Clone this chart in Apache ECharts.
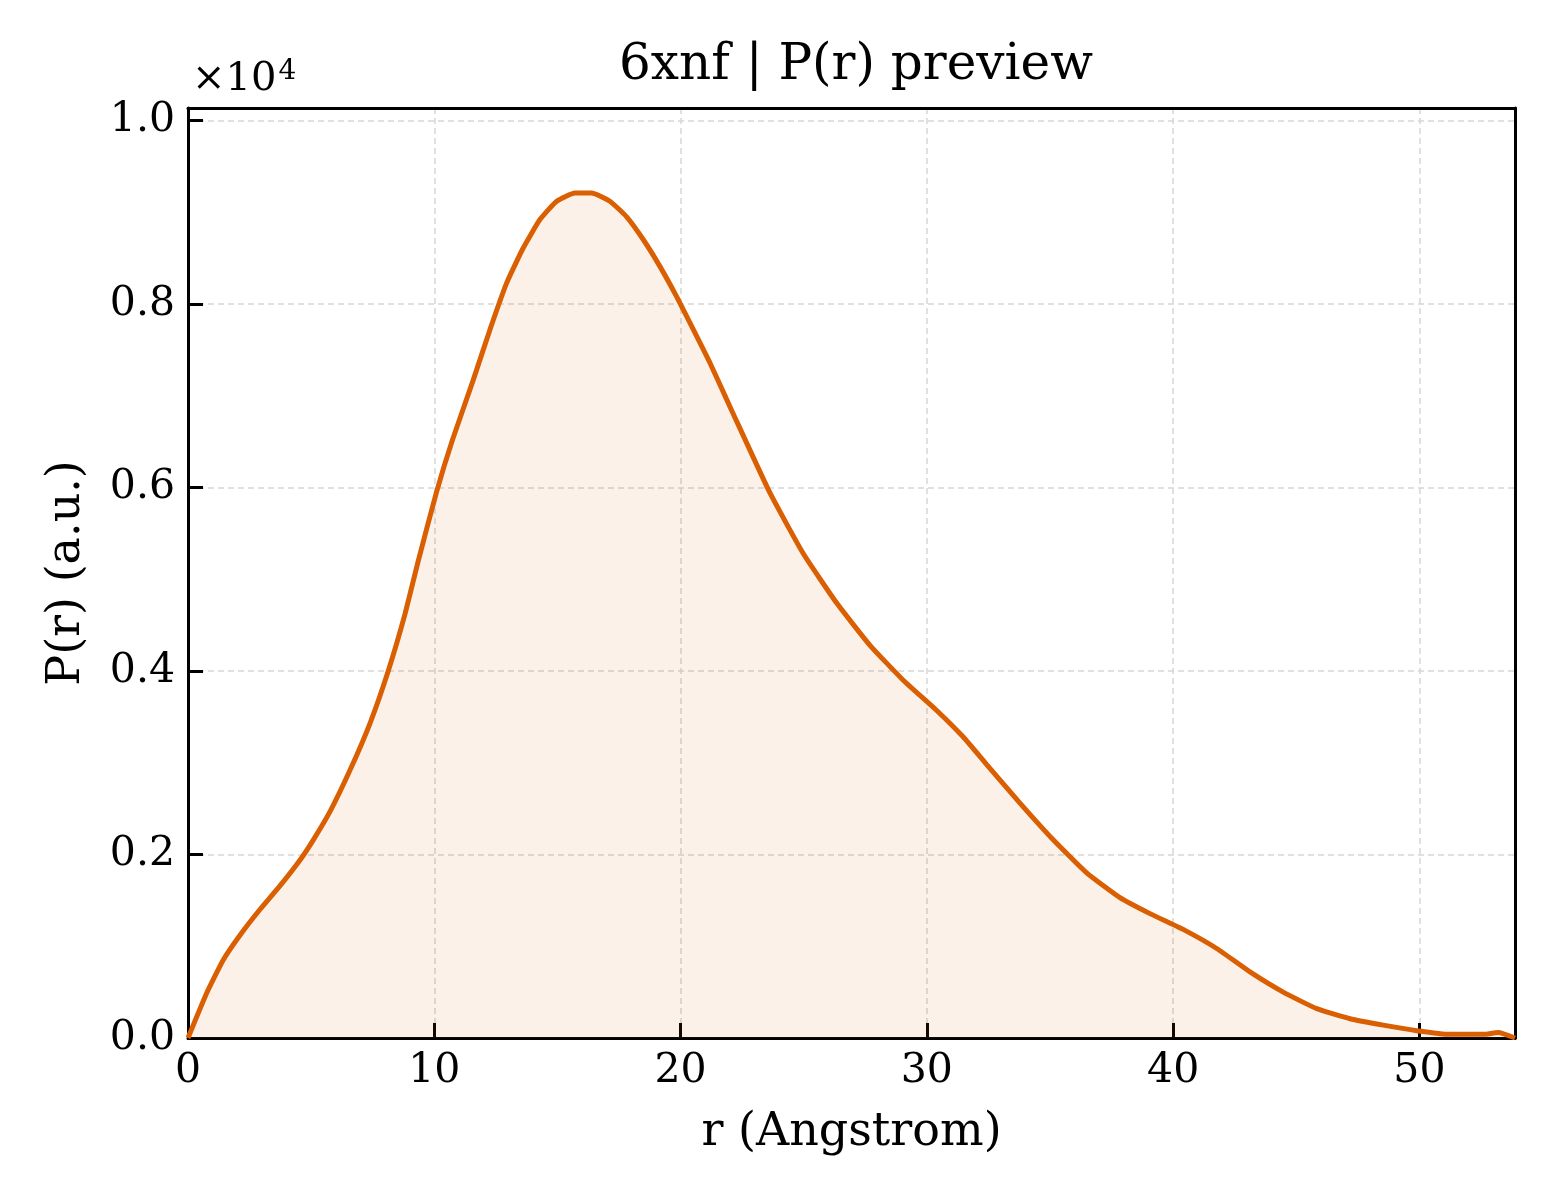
<!DOCTYPE html>
<html>
<head>
<meta charset="utf-8">
<title>6xnf | P(r) preview</title>
<script src="https://cdn.jsdelivr.net/npm/echarts@6/dist/echarts.min.js"></script>
<style>
  html, body { margin: 0; padding: 0; background: #fff; }
  #chart { width: 1560px; height: 1200px; }
</style>
</head>
<body>
<div id="chart"></div>
<script>
// r values (Angstrom)
var rValues = [
  0, 0.76, 1.43, 2.11, 2.92, 3.74, 4.55, 5.09, 5.77, 6.58,
  7.39, 8.13, 8.81, 9.35, 10.09, 10.74, 11.58, 12.26, 12.94, 13.61,
  14.29, 14.97, 15.71, 16.39, 17.13, 17.81, 18.49, 19.16, 19.84, 20.52,
  21.19, 21.87, 22.28, 23.63, 24.98, 26.34, 27.69, 29.04, 30.40, 31.48,
  32.43, 33.78, 35.13, 36.49, 37.84, 39.10, 40.50, 41.80, 43.12, 44.47,
  45.83, 47.18, 48.53, 49.89, 51.24, 52.59, 53.20, 53.88
];
// P(r) values (a.u.)
var prValues = [
  0, 490, 850, 1120, 1400, 1660, 1940, 2160, 2470, 2920,
  3430, 4000, 4620, 5200, 5950, 6520, 7170, 7720, 8230, 8610,
  8920, 9120, 9210, 9210, 9120, 8950, 8700, 8410, 8080, 7720,
  7360, 6960, 6720, 5940, 5280, 4740, 4280, 3900, 3570, 3280,
  2980, 2560, 2160, 1800, 1530, 1350, 1170, 970, 720, 500,
  320, 210, 140, 80, 40, 40, 60, 0
];
var xTicks = [0, 10, 20, 30, 40, 50];
var yTicks = [0, 2000, 4000, 6000, 8000, 10000];

var rMax = 53.88;
var prMax = 10136;

var serif = '"DejaVu Serif", "Liberation Serif", serif';

var points = rValues.map(function (r, i) { return [r, prValues[i]]; });

var chart = echarts.init(document.getElementById('chart'));

var frameAxis = {
    axisLine: { show: true, onZero: false, lineStyle: { color: '#000', width: 3 } },
    axisTick: { show: false },
    axisLabel: { show: false },
    splitLine: { show: false }
};

var option = {
    animation: false,
    backgroundColor: '#ffffff',
    title: {
        text: '6xnf | P(r) preview',
        left: 851,
        top: 36,
        textAlign: 'center',
        textStyle: { fontFamily: serif, fontSize: 50, fontWeight: 'normal', color: '#000' }
    },
    grid: { left: 188, top: 108, right: 45, bottom: 162 },
    xAxis: [
        {
            type: 'value',
            min: 0, max: rMax, interval: 10,
            name: 'r (Angstrom)', nameLocation: 'middle', nameGap: 72,
            nameTextStyle: { fontFamily: serif, fontSize: 46, color: '#000' },
            axisLine: { show: true, onZero: false, lineStyle: { color: '#000', width: 3 } },
            axisTick: { show: true, inside: true, length: 15, lineStyle: { color: '#000', width: 3 } },
            axisLabel: {
                fontFamily: serif, fontSize: 41, color: '#000', margin: 13,
                showMaxLabel: false,
                formatter: function (v) { return xTicks.indexOf(v) >= 0 ? String(v) : ''; }
            },
            splitLine: { show: true, lineStyle: { color: '#d6d6d6', width: 1.5, type: [6, 4] } }
        },
        echarts.util.merge({ type: 'value', position: 'top', min: 0, max: rMax }, frameAxis, true)
    ],
    yAxis: [
        {
            type: 'value',
            min: 0, max: prMax, interval: 2000,
            name: 'P(r) (a.u.)', nameLocation: 'middle', nameGap: 98, nameRotate: 90,
            nameTextStyle: { fontFamily: serif, fontSize: 46, color: '#000' },
            axisLine: { show: true, onZero: false, lineStyle: { color: '#000', width: 3 } },
            axisTick: { show: true, inside: true, length: 15, lineStyle: { color: '#000', width: 3 } },
            axisLabel: {
                fontFamily: serif, fontSize: 41, color: '#000', margin: 13,
                showMaxLabel: false,
                formatter: function (v) { return yTicks.indexOf(v) >= 0 ? (v / 10000).toFixed(1) : ''; }
            },
            splitLine: { show: true, lineStyle: { color: '#d6d6d6', width: 1.5, type: [6, 4] } }
        },
        echarts.util.merge({ type: 'value', position: 'right', min: 0, max: prMax }, frameAxis, true)
    ],
    graphic: [
        {
            type: 'text',
            left: 192, top: 58,
            style: {
                text: '×10{sup|4}',
                font: '40px ' + serif,
                fill: '#000',
                rich: { sup: { fontSize: 28, fontFamily: serif, verticalAlign: 'top', padding: [0, 0, 16, 2] } }
            }
        }
    ],
    series: [
        {
            type: 'line',
            data: points,
            showSymbol: false,
            smooth: 0.15,
            clip: true,
            lineStyle: { color: '#d95f02', width: 5 },
            areaStyle: { color: 'rgba(217,95,2,0.13)' },
            z: 3
        }
    ]
};

chart.setOption(option);
</script>
</body>
</html>
